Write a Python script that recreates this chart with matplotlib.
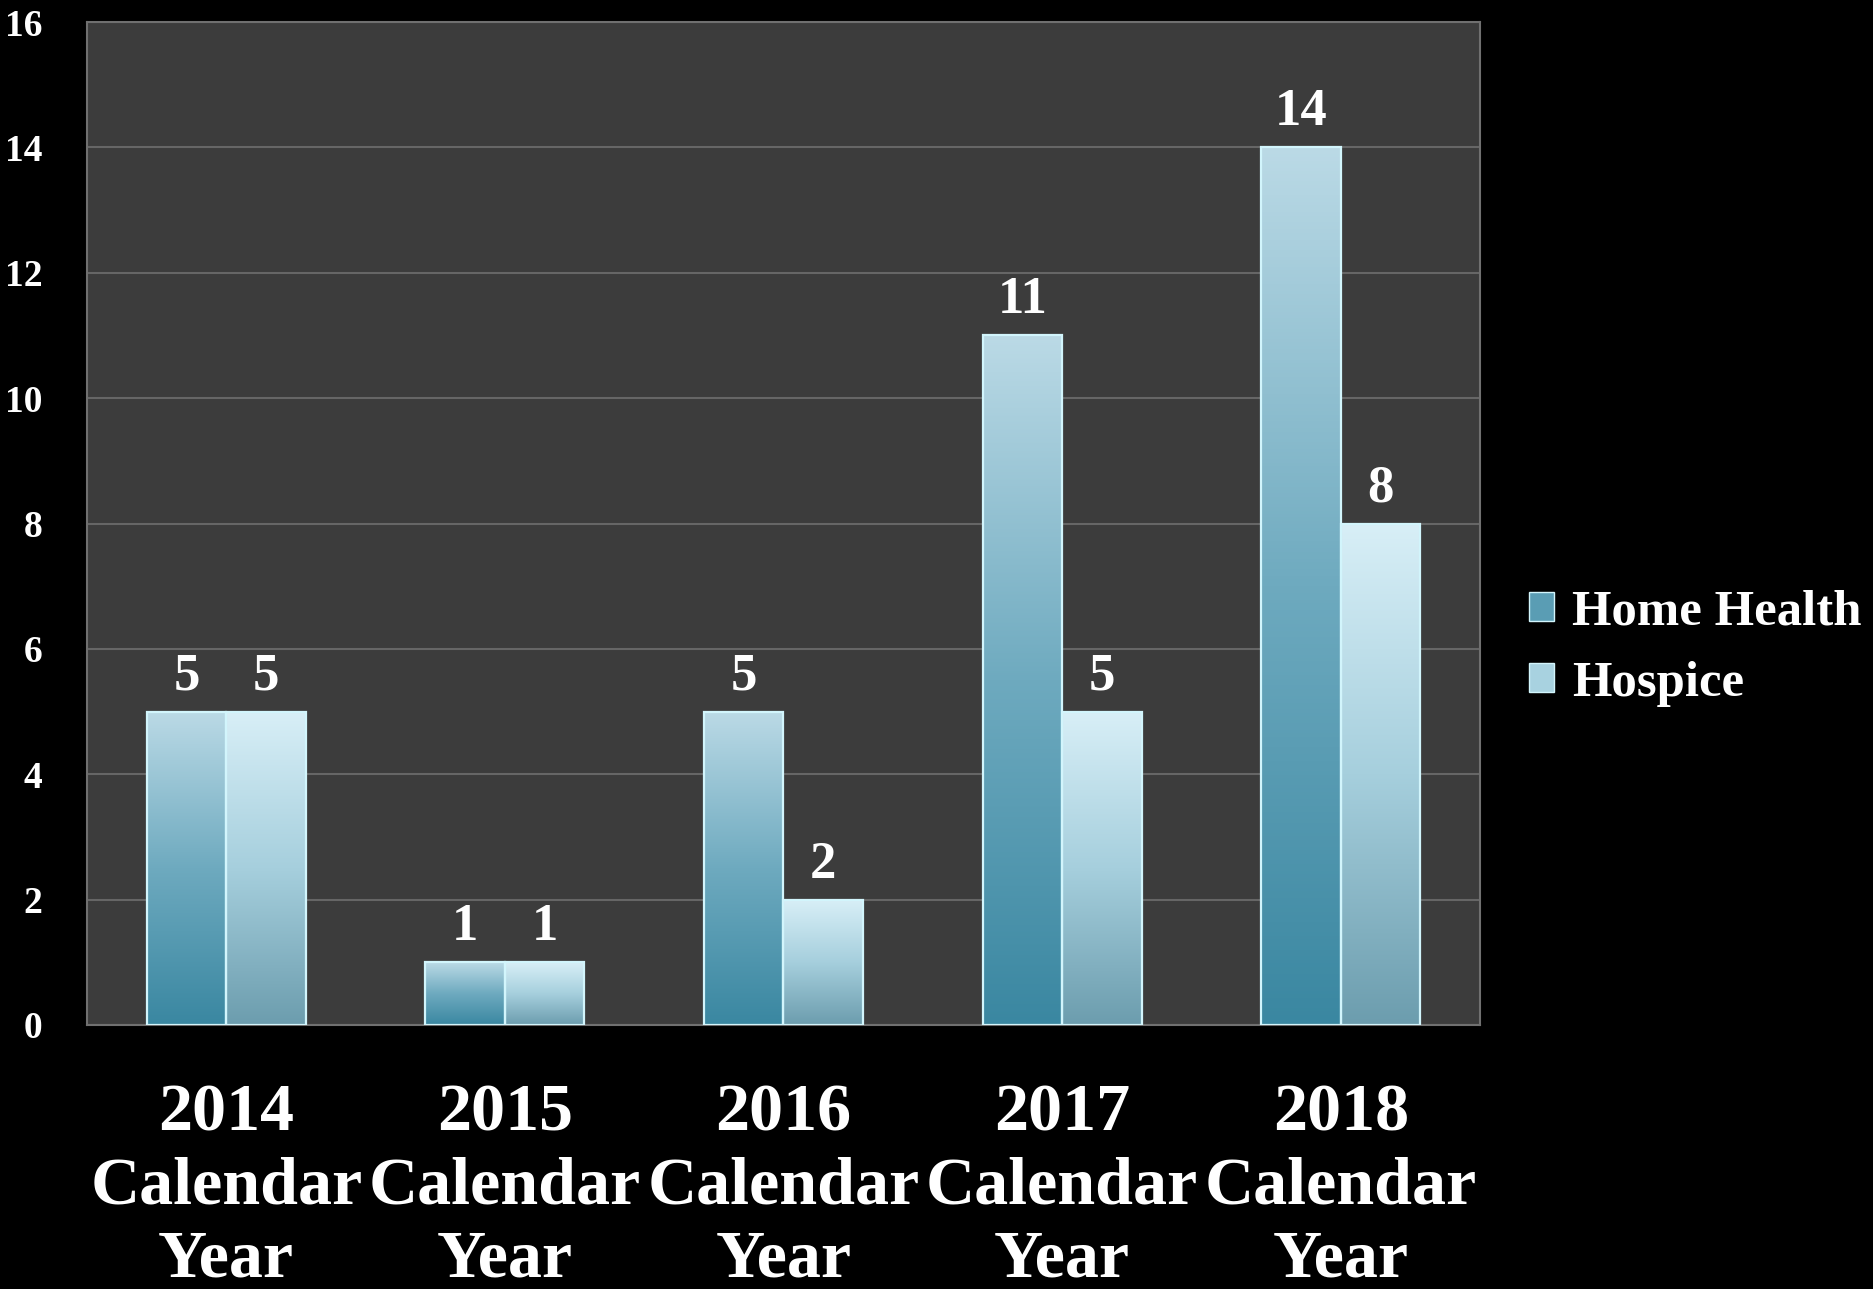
import numpy as np
import matplotlib.pyplot as plt
from matplotlib.colors import LinearSegmentedColormap
from matplotlib.patches import Patch

years = ['2014', '2015', '2016', '2017', '2018']
home_health = [5, 1, 5, 11, 14]
hospice = [5, 1, 2, 5, 8]
series_names = ['Home Health', 'Hospice']
y_ticks = [0, 2, 4, 6, 8, 10, 12, 14, 16]

plt.rcParams['font.family'] = ['Liberation Serif', 'DejaVu Serif']
plt.rcParams['font.weight'] = 'bold'

W, H = 1874, 1289
fig = plt.figure(figsize=(W / 100, H / 100), dpi=100, facecolor='black')
ax = fig.add_axes([87 / W, 1 - 1025 / H, (1480 - 87) / W, (1025 - 22) / H])
ax.set_facecolor('#3c3c3c')

# vertical gradients, dark at the base and light at the top
hh_cmap = LinearSegmentedColormap.from_list('hh', ['#3a87a1', '#6eaabf', '#bbdae6'])
hs_cmap = LinearSegmentedColormap.from_list('hs', ['#6c9dae', '#a6cfdd', '#d8eff7'])
grad = np.linspace(0, 1, 256).reshape(-1, 1)

x = np.arange(len(years))
width = 0.285
offsets = [-width / 2, width / 2]

for vals, off, cmap in zip([home_health, hospice], offsets, [hh_cmap, hs_cmap]):
    bars = ax.bar(x + off, vals, width, color='none', edgecolor='#d2f5fc',
                  linewidth=1.6, zorder=3)
    for b, v in zip(bars, vals):
        x0 = b.get_x()
        im = ax.imshow(grad, cmap=cmap, origin='lower', aspect='auto',
                       extent=[x0, x0 + width, 0, v], zorder=2)
        im.set_clip_path(b)
        ax.annotate(str(v), (x0 + width / 2, v), xytext=(0, 8),
                    textcoords='offset points', ha='center', va='bottom',
                    color='white', fontsize=38, fontweight='bold')

ax.set_xlim(-0.5, len(years) - 0.5)
ax.set_ylim(0, 16)
ax.set_yticks(y_ticks)
ax.set_yticklabels([str(t) for t in y_ticks], fontsize=27, color='white')
ax.set_xticks(x)
ax.set_xticklabels([f'{y}\nCalendar\nYear' for y in years], fontsize=49,
                   color='white', linespacing=1.26)
ax.tick_params(axis='y', length=0, pad=32)
ax.tick_params(axis='x', length=0, pad=42)
ax.grid(axis='y', color='#666666', linewidth=1.5, zorder=1)
ax.set_axisbelow(True)
for s in ax.spines.values():
    s.set_color('#707070')
    s.set_linewidth(1.5)

handles = [Patch(facecolor='#5a9db4', edgecolor='#d2f5fc', linewidth=1),
           Patch(facecolor='#a8d2e0', edgecolor='#d2f5fc', linewidth=1)]
fig.legend(handles, series_names, loc='center left',
           bbox_to_anchor=(1483 / W, 1 - 648 / H), frameon=False,
           fontsize=36.5, labelcolor='white', handlelength=0.5,
           handleheight=0.5, handletextpad=0.35, labelspacing=0.5)

fig.savefig('out.png', dpi=100, facecolor='black')
